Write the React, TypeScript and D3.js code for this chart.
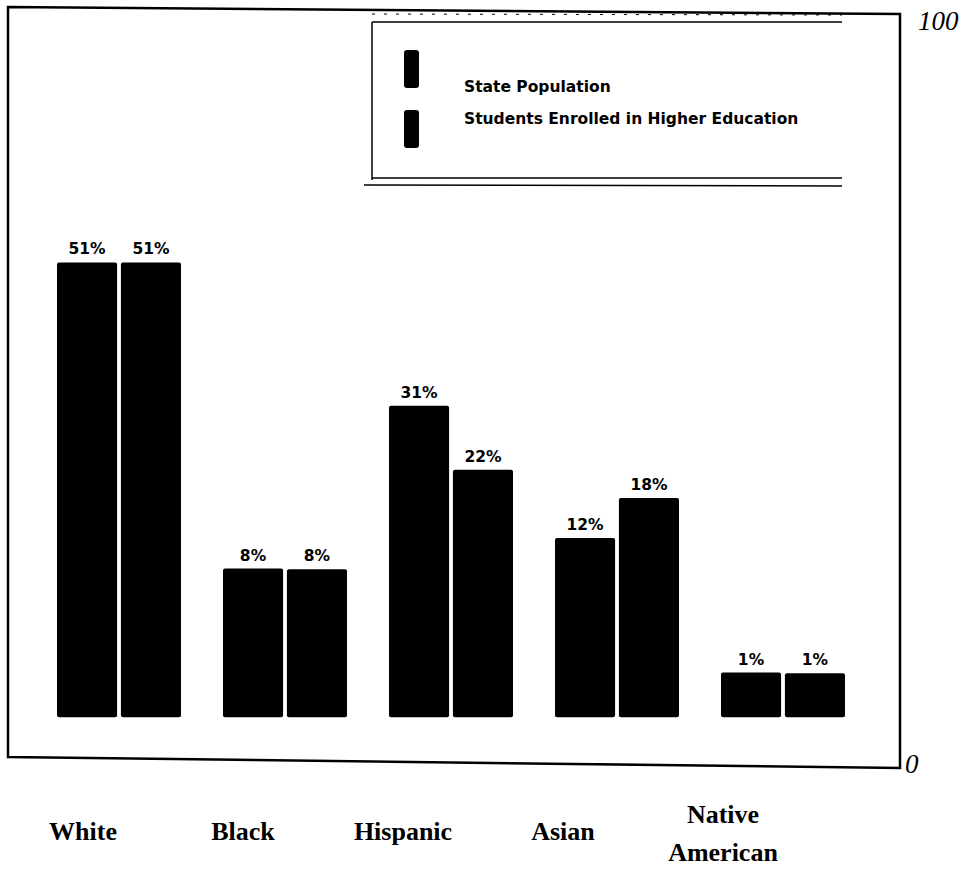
import React from "react";
import * as d3 from "d3";

const categories = ["White", "Black", "Hispanic", "Asian", "Native American"];
const seriesNames = ["State Population", "Students Enrolled in Higher Education"];
const statePopLabel = [51, 8, 31, 12, 1];
const enrolledLabel = [51, 8, 22, 18, 1];
// bar top positions as drawn in the original (axis units, 0..100)
const statePopTop = [66.7, 25.5, 47.4, 29.6, 11.5];
const enrolledTop = [66.7, 25.4, 38.8, 35.0, 11.4];
const barBase = 5.5;
const yTicks = [0, 100];

const W = 971;
const H = 879;

export default function App() {
  const y = d3.scaleLinear().domain([0, 100]).range([758, 15]);
  const x0 = d3.scaleBand<string>().domain(categories).range([57, 845]).paddingInner(0.253).paddingOuter(0);
  const x1 = d3.scaleBand<number>().domain([0, 1]).range([0, x0.bandwidth()]).paddingInner(0.06);
  const xl = d3.scalePoint<string>().domain(categories).range([83, 723]);
  const series = [
    { top: statePopTop, lab: statePopLabel },
    { top: enrolledTop, lab: enrolledLabel },
  ];
  const sans = "'DejaVu Sans', Verdana, sans-serif";
  const serif = "'Liberation Serif', 'Times New Roman', serif";
  return (
    <svg width={W} height={H} style={{ position: "absolute", left: 0, top: 0, background: "#fff" }}>
      <rect width={W} height={H} fill="#fff" />
      {/* frame */}
      <path d="M8,7 L900,14 L900,768 L8,757 Z" fill="none" stroke="#000" strokeWidth={2.5} />
      {/* legend box */}
      <g>
        <line x1={372} y1={22} x2={842} y2={22} stroke="#000" strokeWidth={1.5} />
        <line x1={372} y1={14} x2={842} y2={15} stroke="#000" strokeWidth={1} strokeDasharray="3,9" />
        <line x1={372} y1={22} x2={372} y2={180} stroke="#000" strokeWidth={1.5} />
        <line x1={372} y1={178} x2={842} y2={178} stroke="#000" strokeWidth={1.5} />
        <line x1={364} y1={185} x2={842} y2={186} stroke="#000" strokeWidth={1.5} />
        {seriesNames.map((s, i) => (
          <g key={s}>
            <rect x={404} y={50 + i * 60} width={15} height={38} rx={3} fill="#000" />
            <text x={464} y={92 + i * 32} fontFamily={sans} fontSize={15.5} fontWeight="bold" fill="#000">
              {s}
            </text>
          </g>
        ))}
      </g>
      {/* bars */}
      {categories.map((c, ci) => (
        <g key={c} transform={`translate(${x0(c)},0)`}>
          {series.map((s, si) => {
            const bx = x1(si) as number;
            const bw = x1.bandwidth();
            const top = y(s.top[ci]);
            return (
              <g key={si}>
                <rect x={bx} y={top} width={bw} height={y(barBase) - top} rx={2} fill="#000" />
                <text
                  x={bx + bw / 2}
                  y={top - 8}
                  textAnchor="middle"
                  fontFamily={sans}
                  fontSize={15.5}
                  fontWeight="bold"
                  fill="#000"
                >
                  {s.lab[ci]}%
                </text>
              </g>
            );
          })}
        </g>
      ))}
      {/* y labels */}
      {yTicks.map((t) => (
        <text
          key={t}
          x={t === 100 ? 918 : 905}
          y={t === 100 ? 30 : 773}
          fontFamily={serif}
          fontStyle="italic"
          fontSize={27}
          fill="#000"
        >
          {t}
        </text>
      ))}
      {/* category labels */}
      {categories.map((c) => {
        const cx = xl(c) as number;
        const lines = c === "Native American" ? ["Native", "American"] : [c];
        return (
          <text key={c} textAnchor="middle" fontFamily={serif} fontWeight="bold" fontSize={26} fill="#000">
            {lines.map((l, li) => (
              <tspan key={l} x={cx} y={lines.length > 1 ? 823 + li * 38 : 840}>
                {l}
              </tspan>
            ))}
          </text>
        );
      })}
    </svg>
  );
}
